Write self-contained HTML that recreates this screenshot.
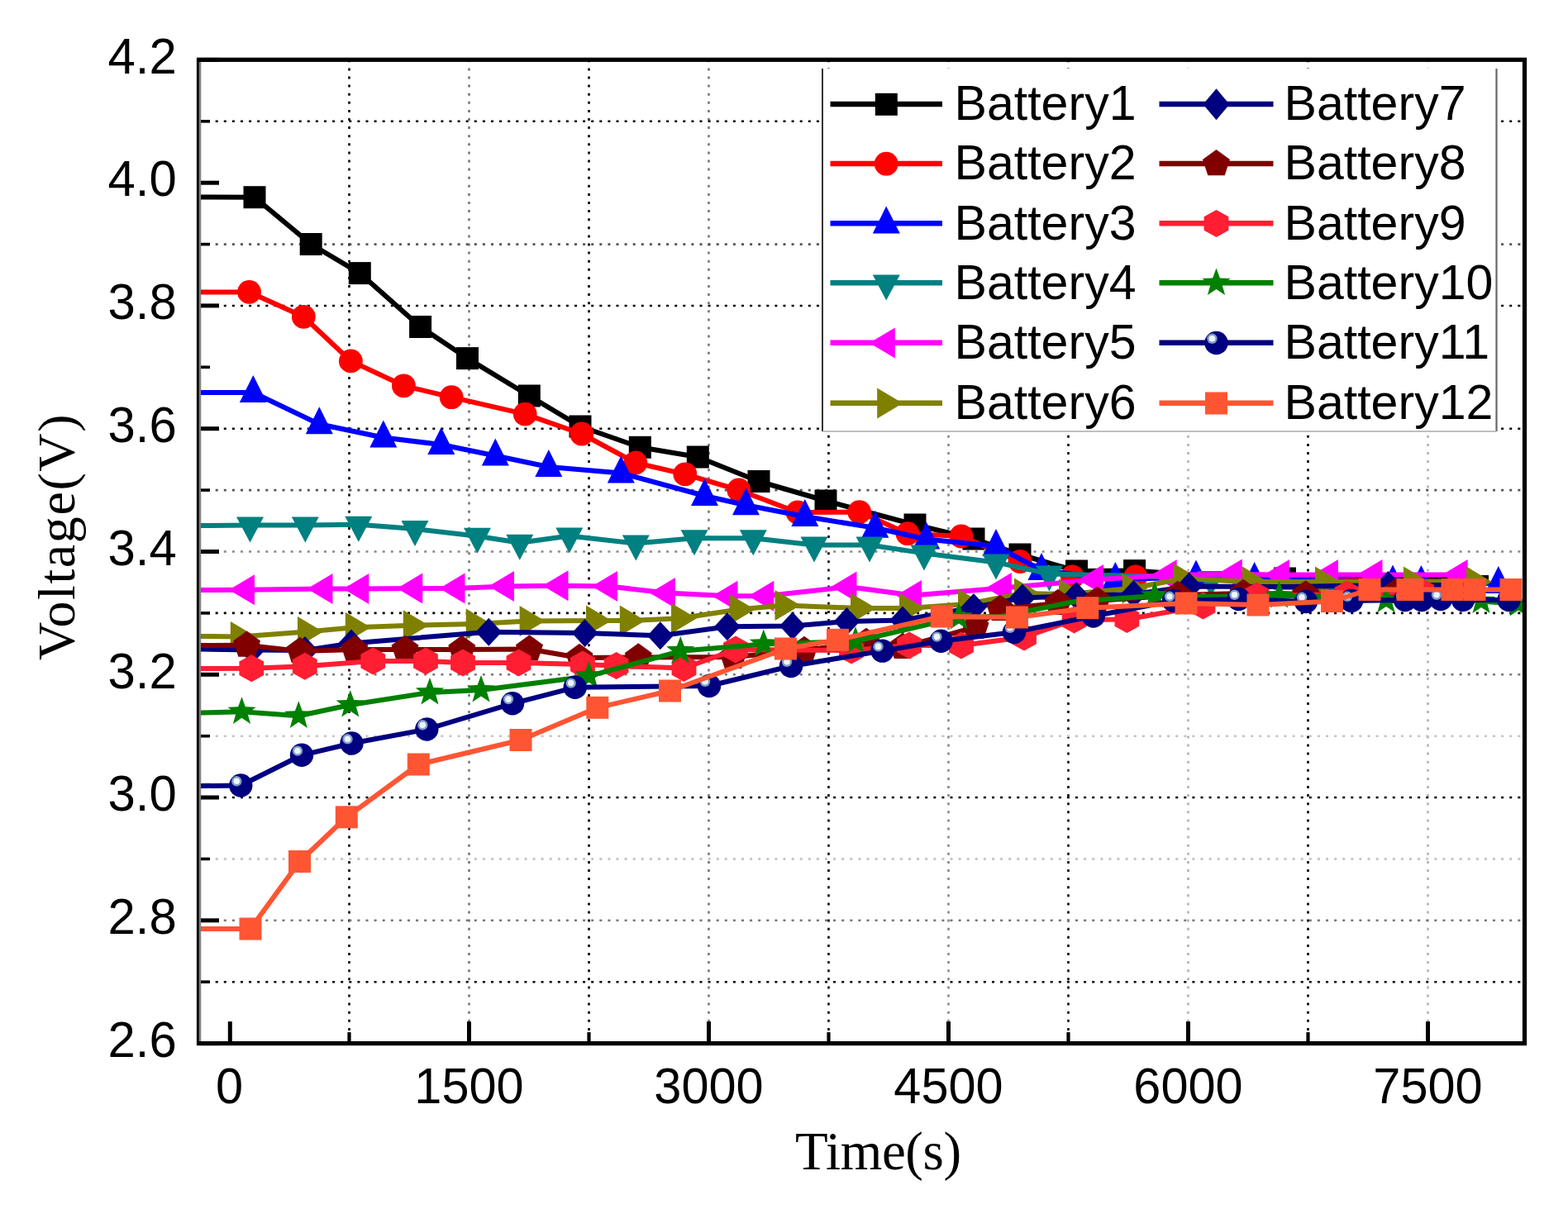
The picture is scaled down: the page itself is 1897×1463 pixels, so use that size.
<!DOCTYPE html>
<html lang="en"><head><meta charset="utf-8"><title>Battery voltage equalization</title>
<style>html,body{margin:0;padding:0;background:#fff;}body{width:1897px;height:1463px;overflow:hidden;}svg{display:block;}text{font-family:"Liberation Sans",sans-serif;fill:#000;}.ser{font-family:"Liberation Serif",serif;}</style>
</head><body>
<svg width="1897" height="1463" viewBox="0 0 1897 1463" role="img" aria-label="Battery voltage versus time">
<rect x="0" y="0" width="1897" height="1463" fill="#ffffff"/>
<g fill="none" stroke-width="2.6" stroke-dasharray="3 7.1">
<line x1="422.5" y1="72.3" x2="422.5" y2="1262.6" stroke="#000"/>
<line x1="567.5" y1="72.3" x2="567.5" y2="1262.6" stroke="#777"/>
<line x1="712.5" y1="72.3" x2="712.5" y2="1262.6" stroke="#000"/>
<line x1="857.5" y1="72.3" x2="857.5" y2="1262.6" stroke="#777"/>
<line x1="1002.5" y1="72.3" x2="1002.5" y2="1262.6" stroke="#000"/>
<line x1="1147.5" y1="72.3" x2="1147.5" y2="1262.6" stroke="#888"/>
<line x1="1292.5" y1="72.3" x2="1292.5" y2="1262.6" stroke="#000"/>
<line x1="1437.5" y1="72.3" x2="1437.5" y2="1262.6" stroke="#b4b0b8"/>
<line x1="1582.5" y1="72.3" x2="1582.5" y2="1262.6" stroke="#000"/>
<line x1="1727.5" y1="72.3" x2="1727.5" y2="1262.6" stroke="#b4b0b8"/>
<line x1="240.5" y1="146.8" x2="1844.5" y2="146.8" stroke="#000"/>
<line x1="240.5" y1="295.6" x2="1844.5" y2="295.6" stroke="#555"/>
<line x1="240.5" y1="370.0" x2="1844.5" y2="370.0" stroke="#000"/>
<line x1="240.5" y1="518.7" x2="1844.5" y2="518.7" stroke="#000"/>
<line x1="240.5" y1="593.1" x2="1844.5" y2="593.1" stroke="#555"/>
<line x1="240.5" y1="667.5" x2="1844.5" y2="667.5" stroke="#888"/>
<line x1="240.5" y1="741.9" x2="1844.5" y2="741.9" stroke="#000"/>
<line x1="240.5" y1="816.3" x2="1844.5" y2="816.3" stroke="#777"/>
<line x1="240.5" y1="890.7" x2="1844.5" y2="890.7" stroke="#c8c0c8"/>
<line x1="240.5" y1="965.0" x2="1844.5" y2="965.0" stroke="#000"/>
<line x1="240.5" y1="1039.4" x2="1844.5" y2="1039.4" stroke="#c8c0c8"/>
<line x1="240.5" y1="1113.8" x2="1844.5" y2="1113.8" stroke="#777"/>
<line x1="240.5" y1="1188.2" x2="1844.5" y2="1188.2" stroke="#000"/>
</g>
<g stroke="#000" stroke-width="5" fill="none">
<line x1="240.5" y1="1262.6" x2="265.0" y2="1262.6"/>
<line x1="240.5" y1="1188.2" x2="254.0" y2="1188.2" stroke-width="3.6"/>
<line x1="240.5" y1="1113.8" x2="265.0" y2="1113.8"/>
<line x1="240.5" y1="1039.4" x2="254.0" y2="1039.4" stroke-width="3.6"/>
<line x1="240.5" y1="965.0" x2="265.0" y2="965.0"/>
<line x1="240.5" y1="890.7" x2="254.0" y2="890.7" stroke-width="3.6"/>
<line x1="240.5" y1="816.3" x2="265.0" y2="816.3"/>
<line x1="240.5" y1="741.9" x2="254.0" y2="741.9" stroke-width="3.6"/>
<line x1="240.5" y1="667.5" x2="265.0" y2="667.5"/>
<line x1="240.5" y1="593.1" x2="254.0" y2="593.1" stroke-width="3.6"/>
<line x1="240.5" y1="518.7" x2="265.0" y2="518.7"/>
<line x1="240.5" y1="444.3" x2="254.0" y2="444.3" stroke-width="3.6"/>
<line x1="240.5" y1="369.9" x2="265.0" y2="369.9"/>
<line x1="240.5" y1="295.6" x2="254.0" y2="295.6" stroke-width="3.6"/>
<line x1="240.5" y1="221.2" x2="265.0" y2="221.2"/>
<line x1="240.5" y1="146.8" x2="254.0" y2="146.8" stroke-width="3.6"/>
<line x1="240.5" y1="72.4" x2="265.0" y2="72.4"/>
<line x1="278.3" y1="1262.6" x2="278.3" y2="1236.1"/>
<line x1="422.5" y1="1262.6" x2="422.5" y2="1249.1" stroke-width="4.2"/>
<line x1="567.5" y1="1262.6" x2="567.5" y2="1236.1"/>
<line x1="712.5" y1="1262.6" x2="712.5" y2="1249.1" stroke-width="4.2"/>
<line x1="857.5" y1="1262.6" x2="857.5" y2="1236.1"/>
<line x1="1002.5" y1="1262.6" x2="1002.5" y2="1249.1" stroke-width="4.2"/>
<line x1="1147.5" y1="1262.6" x2="1147.5" y2="1236.1"/>
<line x1="1292.5" y1="1262.6" x2="1292.5" y2="1249.1" stroke-width="4.2"/>
<line x1="1437.5" y1="1262.6" x2="1437.5" y2="1236.1"/>
<line x1="1582.5" y1="1262.6" x2="1582.5" y2="1249.1" stroke-width="4.2"/>
<line x1="1727.5" y1="1262.6" x2="1727.5" y2="1236.1"/>
</g>
<clipPath id="pc"><rect x="240.5" y="72.3" width="1604.0" height="1190.3"/></clipPath>
<g id="series" stroke-linejoin="round" stroke-linecap="butt" clip-path="url(#pc)">
<path d="M242.6 238.5 L308.0 238.7 L376.2 295.5 L435.3 330.6 L508.6 395.5 L565.5 433.6 L640.3 479.0 L702.0 516.0 L774.3 541.3 L844.3 553.0 L918.0 582.5 L999.0 606.0 L1107.0 635.0 L1178.0 652.0 L1234.0 671.0 L1302.5 691.0 L1372.6 690.6 L1460.0 697.0 L1554.5 700.0 L1700.0 700.0 L1801.0 699.0" fill="none" stroke="#000000" stroke-width="6"/>
<rect x="294.5" y="225.2" width="27" height="27" fill="#000000"/>
<rect x="362.7" y="282.0" width="27" height="27" fill="#000000"/>
<rect x="421.8" y="317.1" width="27" height="27" fill="#000000"/>
<rect x="495.1" y="382.0" width="27" height="27" fill="#000000"/>
<rect x="552.0" y="420.1" width="27" height="27" fill="#000000"/>
<rect x="626.8" y="465.5" width="27" height="27" fill="#000000"/>
<rect x="688.5" y="502.5" width="27" height="27" fill="#000000"/>
<rect x="760.8" y="527.8" width="27" height="27" fill="#000000"/>
<rect x="830.8" y="539.5" width="27" height="27" fill="#000000"/>
<rect x="904.5" y="569.0" width="27" height="27" fill="#000000"/>
<rect x="985.5" y="592.5" width="27" height="27" fill="#000000"/>
<rect x="1093.5" y="621.5" width="27" height="27" fill="#000000"/>
<rect x="1164.5" y="638.5" width="27" height="27" fill="#000000"/>
<rect x="1220.5" y="657.5" width="27" height="27" fill="#000000"/>
<rect x="1289.0" y="677.5" width="27" height="27" fill="#000000"/>
<rect x="1359.1" y="677.1" width="27" height="27" fill="#000000"/>
<rect x="1541.0" y="686.5" width="27" height="27" fill="#000000"/>
<path d="M242.6 353.4 L301.5 353.4 L367.3 383.3 L424.4 436.9 L488.4 466.8 L546.2 480.7 L635.2 501.1 L703.8 525.0 L768.8 560.0 L828.8 573.8 L893.8 593.0 L965.0 620.0 L1039.7 619.6 L1098.0 645.7 L1163.0 649.0 L1234.0 679.5 L1297.3 698.0 L1373.8 698.0 L1460.0 700.0 L1790.0 704.0" fill="none" stroke="#ff0000" stroke-width="6"/>
<circle cx="301.5" cy="353.4" r="14.4" fill="#ff0000"/>
<circle cx="367.3" cy="383.3" r="14.4" fill="#ff0000"/>
<circle cx="424.4" cy="436.9" r="14.4" fill="#ff0000"/>
<circle cx="488.4" cy="466.8" r="14.4" fill="#ff0000"/>
<circle cx="546.2" cy="480.7" r="14.4" fill="#ff0000"/>
<circle cx="635.2" cy="501.1" r="14.4" fill="#ff0000"/>
<circle cx="703.8" cy="525.0" r="14.4" fill="#ff0000"/>
<circle cx="768.8" cy="560.0" r="14.4" fill="#ff0000"/>
<circle cx="828.8" cy="573.8" r="14.4" fill="#ff0000"/>
<circle cx="893.8" cy="593.0" r="14.4" fill="#ff0000"/>
<circle cx="965.0" cy="620.0" r="14.4" fill="#ff0000"/>
<circle cx="1039.7" cy="619.6" r="14.4" fill="#ff0000"/>
<circle cx="1098.0" cy="645.7" r="14.4" fill="#ff0000"/>
<circle cx="1163.0" cy="649.0" r="14.4" fill="#ff0000"/>
<circle cx="1234.0" cy="679.5" r="14.4" fill="#ff0000"/>
<circle cx="1297.3" cy="698.0" r="14.4" fill="#ff0000"/>
<circle cx="1373.8" cy="698.0" r="14.4" fill="#ff0000"/>
<path d="M242.6 475.0 L306.3 475.0 L386.3 513.3 L463.8 529.5 L533.8 538.0 L599.3 551.5 L663.8 565.0 L751.3 572.5 L852.5 600.0 L902.5 611.3 L973.8 625.0 L1058.8 638.8 L1120.7 652.5 L1205.0 661.0 L1260.0 690.0 L1349.4 701.0 L1447.0 698.5 L1517.6 701.0 L1685.0 704.5 L1719.4 705.0 L1812.8 706.0 L1830.0 708.0" fill="none" stroke="#0000ff" stroke-width="6"/>
<polygon points="306.3,454.0 322.8,487.0 289.8,487.0" fill="#0000ff"/>
<polygon points="386.3,492.3 402.8,525.3 369.8,525.3" fill="#0000ff"/>
<polygon points="463.8,508.5 480.3,541.5 447.3,541.5" fill="#0000ff"/>
<polygon points="533.8,517.0 550.3,550.0 517.3,550.0" fill="#0000ff"/>
<polygon points="599.3,530.5 615.8,563.5 582.8,563.5" fill="#0000ff"/>
<polygon points="663.8,544.0 680.3,577.0 647.3,577.0" fill="#0000ff"/>
<polygon points="751.3,551.5 767.8,584.5 734.8,584.5" fill="#0000ff"/>
<polygon points="852.5,579.0 869.0,612.0 836.0,612.0" fill="#0000ff"/>
<polygon points="902.5,590.3 919.0,623.3 886.0,623.3" fill="#0000ff"/>
<polygon points="973.8,604.0 990.3,637.0 957.3,637.0" fill="#0000ff"/>
<polygon points="1058.8,617.8 1075.3,650.8 1042.3,650.8" fill="#0000ff"/>
<polygon points="1120.7,631.5 1137.2,664.5 1104.2,664.5" fill="#0000ff"/>
<polygon points="1205.0,640.0 1221.5,673.0 1188.5,673.0" fill="#0000ff"/>
<polygon points="1260.0,669.0 1276.5,702.0 1243.5,702.0" fill="#0000ff"/>
<polygon points="1349.4,680.0 1365.9,713.0 1332.9,713.0" fill="#0000ff"/>
<polygon points="1447.0,677.5 1463.5,710.5 1430.5,710.5" fill="#0000ff"/>
<polygon points="1517.6,680.0 1534.1,713.0 1501.1,713.0" fill="#0000ff"/>
<polygon points="1685.0,683.5 1701.5,716.5 1668.5,716.5" fill="#0000ff"/>
<polygon points="1719.4,684.0 1735.9,717.0 1702.9,717.0" fill="#0000ff"/>
<polygon points="1812.8,685.0 1829.3,718.0 1796.3,718.0" fill="#0000ff"/>
<path d="M242.6 636.0 L302.5 635.5 L369.3 635.5 L433.8 634.8 L502.0 640.0 L577.5 648.8 L628.8 656.8 L688.8 648.5 L769.3 657.5 L840.0 651.3 L911.3 651.3 L985.0 659.5 L1052.0 659.5 L1118.0 669.4 L1205.0 680.4 L1269.4 694.6 L1378.0 697.0 L1465.0 701.0 L1600.0 711.0 L1790.0 712.0" fill="none" stroke="#008080" stroke-width="6"/>
<polygon points="302.5,656.5 319.0,625.5 286.0,625.5" fill="#008080"/>
<polygon points="369.3,656.5 385.8,625.5 352.8,625.5" fill="#008080"/>
<polygon points="433.8,655.8 450.3,624.8 417.3,624.8" fill="#008080"/>
<polygon points="502.0,661.0 518.5,630.0 485.5,630.0" fill="#008080"/>
<polygon points="577.5,669.8 594.0,638.8 561.0,638.8" fill="#008080"/>
<polygon points="628.8,677.8 645.3,646.8 612.3,646.8" fill="#008080"/>
<polygon points="688.8,669.5 705.3,638.5 672.3,638.5" fill="#008080"/>
<polygon points="769.3,678.5 785.8,647.5 752.8,647.5" fill="#008080"/>
<polygon points="840.0,672.3 856.5,641.3 823.5,641.3" fill="#008080"/>
<polygon points="911.3,672.3 927.8,641.3 894.8,641.3" fill="#008080"/>
<polygon points="985.0,680.5 1001.5,649.5 968.5,649.5" fill="#008080"/>
<polygon points="1052.0,680.5 1068.5,649.5 1035.5,649.5" fill="#008080"/>
<polygon points="1118.0,690.4 1134.5,659.4 1101.5,659.4" fill="#008080"/>
<polygon points="1205.0,701.4 1221.5,670.4 1188.5,670.4" fill="#008080"/>
<polygon points="1269.4,715.6 1285.9,684.6 1252.9,684.6" fill="#008080"/>
<polygon points="1465.0,722.0 1481.5,691.0 1448.5,691.0" fill="#008080"/>
<path d="M242.6 714.0 L297.5 713.8 L392.0 712.5 L435.8 712.5 L500.8 712.0 L552.0 712.0 L611.5 709.5 L677.0 708.8 L736.5 709.5 L806.5 717.5 L882.0 721.3 L925.8 721.3 L1026.0 710.0 L1104.5 720.5 L1213.3 711.6 L1324.5 701.5 L1413.2 695.7 L1492.3 695.0 L1549.5 695.5 L1608.5 695.5 L1662.0 695.5 L1765.2 695.5" fill="none" stroke="#ff00ff" stroke-width="6"/>
<polygon points="277.0,713.8 308.0,695.3 308.0,732.3" fill="#ff00ff"/>
<polygon points="371.5,712.5 402.5,694.0 402.5,731.0" fill="#ff00ff"/>
<polygon points="415.3,712.5 446.3,694.0 446.3,731.0" fill="#ff00ff"/>
<polygon points="480.3,712.0 511.3,693.5 511.3,730.5" fill="#ff00ff"/>
<polygon points="531.5,712.0 562.5,693.5 562.5,730.5" fill="#ff00ff"/>
<polygon points="591.0,709.5 622.0,691.0 622.0,728.0" fill="#ff00ff"/>
<polygon points="656.5,708.8 687.5,690.3 687.5,727.3" fill="#ff00ff"/>
<polygon points="716.0,709.5 747.0,691.0 747.0,728.0" fill="#ff00ff"/>
<polygon points="786.0,717.5 817.0,699.0 817.0,736.0" fill="#ff00ff"/>
<polygon points="861.5,721.3 892.5,702.8 892.5,739.8" fill="#ff00ff"/>
<polygon points="905.3,721.3 936.3,702.8 936.3,739.8" fill="#ff00ff"/>
<polygon points="1005.5,710.0 1036.5,691.5 1036.5,728.5" fill="#ff00ff"/>
<polygon points="1084.0,720.5 1115.0,702.0 1115.0,739.0" fill="#ff00ff"/>
<polygon points="1192.8,711.6 1223.8,693.1 1223.8,730.1" fill="#ff00ff"/>
<polygon points="1304.0,701.5 1335.0,683.0 1335.0,720.0" fill="#ff00ff"/>
<polygon points="1392.7,695.7 1423.7,677.2 1423.7,714.2" fill="#ff00ff"/>
<polygon points="1471.8,695.0 1502.8,676.5 1502.8,713.5" fill="#ff00ff"/>
<polygon points="1529.0,695.5 1560.0,677.0 1560.0,714.0" fill="#ff00ff"/>
<polygon points="1588.0,695.5 1619.0,677.0 1619.0,714.0" fill="#ff00ff"/>
<polygon points="1641.5,695.5 1672.5,677.0 1672.5,714.0" fill="#ff00ff"/>
<polygon points="1744.7,695.5 1775.7,677.0 1775.7,714.0" fill="#ff00ff"/>
<path d="M242.6 770.0 L289.8 770.4 L371.0 764.5 L428.8 759.2 L498.8 756.7 L574.7 755.0 L639.6 751.5 L720.0 751.0 L760.8 751.0 L823.0 748.3 L893.5 737.5 L948.5 732.5 L1040.0 736.0 L1099.0 736.0 L1170.0 731.0 L1238.0 718.0 L1292.0 719.0 L1368.6 712.0 L1431.0 700.3 L1514.0 704.0 L1602.0 704.0 L1709.0 704.0 L1785.0 704.0" fill="none" stroke="#808000" stroke-width="6"/>
<polygon points="309.8,770.4 278.8,751.9 278.8,788.9" fill="#808000"/>
<polygon points="391.0,764.5 360.0,746.0 360.0,783.0" fill="#808000"/>
<polygon points="448.8,759.2 417.8,740.7 417.8,777.7" fill="#808000"/>
<polygon points="518.8,756.7 487.8,738.2 487.8,775.2" fill="#808000"/>
<polygon points="594.7,755.0 563.7,736.5 563.7,773.5" fill="#808000"/>
<polygon points="659.6,751.5 628.6,733.0 628.6,770.0" fill="#808000"/>
<polygon points="740.0,751.0 709.0,732.5 709.0,769.5" fill="#808000"/>
<polygon points="780.8,751.0 749.8,732.5 749.8,769.5" fill="#808000"/>
<polygon points="843.0,748.3 812.0,729.8 812.0,766.8" fill="#808000"/>
<polygon points="913.5,737.5 882.5,719.0 882.5,756.0" fill="#808000"/>
<polygon points="968.5,732.5 937.5,714.0 937.5,751.0" fill="#808000"/>
<polygon points="1060.0,736.0 1029.0,717.5 1029.0,754.5" fill="#808000"/>
<polygon points="1119.0,736.0 1088.0,717.5 1088.0,754.5" fill="#808000"/>
<polygon points="1190.0,731.0 1159.0,712.5 1159.0,749.5" fill="#808000"/>
<polygon points="1258.0,718.0 1227.0,699.5 1227.0,736.5" fill="#808000"/>
<polygon points="1312.0,719.0 1281.0,700.5 1281.0,737.5" fill="#808000"/>
<polygon points="1388.6,712.0 1357.6,693.5 1357.6,730.5" fill="#808000"/>
<polygon points="1451.0,700.3 1420.0,681.8 1420.0,718.8" fill="#808000"/>
<polygon points="1534.0,704.0 1503.0,685.5 1503.0,722.5" fill="#808000"/>
<polygon points="1622.0,704.0 1591.0,685.5 1591.0,722.5" fill="#808000"/>
<polygon points="1729.0,704.0 1698.0,685.5 1698.0,722.5" fill="#808000"/>
<polygon points="1805.0,704.0 1774.0,685.5 1774.0,722.5" fill="#808000"/>
<path d="M242.6 785.6 L305.0 786.5 L369.0 787.0 L425.0 778.5 L591.3 764.7 L707.6 766.0 L798.8 769.3 L879.9 758.3 L958.8 757.5 L1024.5 752.0 L1092.0 750.5 L1178.0 735.0 L1237.0 723.5 L1302.0 721.0 L1371.5 719.0 L1438.7 709.6 L1560.0 710.0 L1679.4 708.0 L1795.0 708.0" fill="none" stroke="#000080" stroke-width="6"/>
<polygon points="305.0,769.5 320.8,786.5 305.0,803.5 289.2,786.5" fill="#000080"/>
<polygon points="369.0,770.0 384.8,787.0 369.0,804.0 353.2,787.0" fill="#000080"/>
<polygon points="425.0,761.5 440.8,778.5 425.0,795.5 409.2,778.5" fill="#000080"/>
<polygon points="591.3,747.7 607.1,764.7 591.3,781.7 575.5,764.7" fill="#000080"/>
<polygon points="707.6,749.0 723.4,766.0 707.6,783.0 691.8,766.0" fill="#000080"/>
<polygon points="798.8,752.3 814.6,769.3 798.8,786.3 783.0,769.3" fill="#000080"/>
<polygon points="879.9,741.3 895.7,758.3 879.9,775.3 864.1,758.3" fill="#000080"/>
<polygon points="958.8,740.5 974.6,757.5 958.8,774.5 943.0,757.5" fill="#000080"/>
<polygon points="1024.5,735.0 1040.3,752.0 1024.5,769.0 1008.7,752.0" fill="#000080"/>
<polygon points="1092.0,733.5 1107.8,750.5 1092.0,767.5 1076.2,750.5" fill="#000080"/>
<polygon points="1178.0,718.0 1193.8,735.0 1178.0,752.0 1162.2,735.0" fill="#000080"/>
<polygon points="1237.0,706.5 1252.8,723.5 1237.0,740.5 1221.2,723.5" fill="#000080"/>
<polygon points="1302.0,704.0 1317.8,721.0 1302.0,738.0 1286.2,721.0" fill="#000080"/>
<polygon points="1371.5,702.0 1387.3,719.0 1371.5,736.0 1355.7,719.0" fill="#000080"/>
<polygon points="1438.7,692.6 1454.5,709.6 1438.7,726.6 1422.9,709.6" fill="#000080"/>
<polygon points="1679.4,691.0 1695.2,708.0 1679.4,725.0 1663.6,708.0" fill="#000080"/>
<path d="M242.6 781.0 L298.5 780.8 L363.0 788.0 L428.8 786.0 L490.0 786.0 L558.8 786.0 L640.5 785.5 L701.0 796.0 L772.3 795.5 L887.0 795.0 L973.0 787.0 L1048.0 777.0 L1092.0 783.0 L1180.0 759.0 L1210.0 737.0 L1280.0 730.0 L1327.4 727.0 L1424.8 720.0 L1504.0 718.0 L1579.6 719.5 L1690.0 716.0 L1795.0 716.0" fill="none" stroke="#800000" stroke-width="6"/>
<polygon points="298.5,763.5 315.0,775.5 308.7,794.8 288.3,794.8 282.0,775.5" fill="#800000"/>
<polygon points="363.0,770.7 379.5,782.7 373.2,802.0 352.8,802.0 346.5,782.7" fill="#800000"/>
<polygon points="428.8,768.7 445.3,780.7 439.0,800.0 418.6,800.0 412.3,780.7" fill="#800000"/>
<polygon points="490.0,768.7 506.5,780.7 500.2,800.0 479.8,800.0 473.5,780.7" fill="#800000"/>
<polygon points="558.8,768.7 575.3,780.7 569.0,800.0 548.6,800.0 542.3,780.7" fill="#800000"/>
<polygon points="640.5,768.2 657.0,780.2 650.7,799.5 630.3,799.5 624.0,780.2" fill="#800000"/>
<polygon points="701.0,778.7 717.5,790.7 711.2,810.0 690.8,810.0 684.5,790.7" fill="#800000"/>
<polygon points="772.3,778.2 788.8,790.2 782.5,809.5 762.1,809.5 755.8,790.2" fill="#800000"/>
<polygon points="887.0,777.7 903.5,789.7 897.2,809.0 876.8,809.0 870.5,789.7" fill="#800000"/>
<polygon points="973.0,769.7 989.5,781.7 983.2,801.0 962.8,801.0 956.5,781.7" fill="#800000"/>
<polygon points="1048.0,759.7 1064.5,771.7 1058.2,791.0 1037.8,791.0 1031.5,771.7" fill="#800000"/>
<polygon points="1092.0,765.7 1108.5,777.7 1102.2,797.0 1081.8,797.0 1075.5,777.7" fill="#800000"/>
<polygon points="1180.0,741.7 1196.5,753.7 1190.2,773.0 1169.8,773.0 1163.5,753.7" fill="#800000"/>
<polygon points="1210.0,719.7 1226.5,731.7 1220.2,751.0 1199.8,751.0 1193.5,731.7" fill="#800000"/>
<polygon points="1280.0,712.7 1296.5,724.7 1290.2,744.0 1269.8,744.0 1263.5,724.7" fill="#800000"/>
<polygon points="1327.4,709.7 1343.9,721.7 1337.6,741.0 1317.2,741.0 1310.9,721.7" fill="#800000"/>
<polygon points="1424.8,702.7 1441.3,714.7 1435.0,734.0 1414.6,734.0 1408.3,714.7" fill="#800000"/>
<polygon points="1504.0,700.7 1520.5,712.7 1514.2,732.0 1493.8,732.0 1487.5,712.7" fill="#800000"/>
<polygon points="1579.6,702.2 1596.1,714.2 1589.8,733.5 1569.4,733.5 1563.1,714.2" fill="#800000"/>
<polygon points="1690.0,698.7 1706.5,710.7 1700.2,730.0 1679.8,730.0 1673.5,710.7" fill="#800000"/>
<path d="M242.6 809.0 L304.3 808.8 L368.8 806.3 L451.3 800.0 L515.0 800.0 L560.0 802.0 L627.5 802.0 L705.0 804.0 L745.6 805.6 L827.5 808.5 L890.0 786.0 L1030.0 787.0 L1100.0 781.0 L1163.0 781.0 L1239.0 771.0 L1299.6 750.0 L1363.4 749.5 L1455.5 733.0 L1520.5 721.0 L1629.5 719.0 L1720.0 716.0 L1795.0 716.0" fill="none" stroke="#ff1e32" stroke-width="6"/>
<polygon points="304.3,792.3 319.2,800.5 319.2,817.0 304.3,825.3 289.4,817.0 289.4,800.5" fill="#ff1e32"/>
<polygon points="368.8,789.8 383.7,798.0 383.7,814.5 368.8,822.8 353.9,814.5 353.9,798.0" fill="#ff1e32"/>
<polygon points="451.3,783.5 466.2,791.8 466.2,808.2 451.3,816.5 436.4,808.2 436.4,791.8" fill="#ff1e32"/>
<polygon points="515.0,783.5 529.9,791.8 529.9,808.2 515.0,816.5 500.1,808.2 500.1,791.8" fill="#ff1e32"/>
<polygon points="560.0,785.5 574.9,793.8 574.9,810.2 560.0,818.5 545.1,810.2 545.1,793.8" fill="#ff1e32"/>
<polygon points="627.5,785.5 642.4,793.8 642.4,810.2 627.5,818.5 612.6,810.2 612.6,793.8" fill="#ff1e32"/>
<polygon points="705.0,787.5 719.9,795.8 719.9,812.2 705.0,820.5 690.1,812.2 690.1,795.8" fill="#ff1e32"/>
<polygon points="745.6,789.1 760.5,797.4 760.5,813.9 745.6,822.1 730.7,813.9 730.7,797.4" fill="#ff1e32"/>
<polygon points="827.5,792.0 842.4,800.2 842.4,816.8 827.5,825.0 812.6,816.8 812.6,800.2" fill="#ff1e32"/>
<polygon points="890.0,769.5 904.9,777.8 904.9,794.2 890.0,802.5 875.1,794.2 875.1,777.8" fill="#ff1e32"/>
<polygon points="1030.0,770.5 1044.9,778.8 1044.9,795.2 1030.0,803.5 1015.1,795.2 1015.1,778.8" fill="#ff1e32"/>
<polygon points="1100.0,764.5 1114.9,772.8 1114.9,789.2 1100.0,797.5 1085.1,789.2 1085.1,772.8" fill="#ff1e32"/>
<polygon points="1163.0,764.5 1177.9,772.8 1177.9,789.2 1163.0,797.5 1148.1,789.2 1148.1,772.8" fill="#ff1e32"/>
<polygon points="1239.0,754.5 1253.9,762.8 1253.9,779.2 1239.0,787.5 1224.1,779.2 1224.1,762.8" fill="#ff1e32"/>
<polygon points="1299.6,733.5 1314.5,741.8 1314.5,758.2 1299.6,766.5 1284.7,758.2 1284.7,741.8" fill="#ff1e32"/>
<polygon points="1363.4,733.0 1378.3,741.2 1378.3,757.8 1363.4,766.0 1348.5,757.8 1348.5,741.2" fill="#ff1e32"/>
<polygon points="1455.5,716.5 1470.4,724.8 1470.4,741.2 1455.5,749.5 1440.6,741.2 1440.6,724.8" fill="#ff1e32"/>
<polygon points="1520.5,704.5 1535.4,712.8 1535.4,729.2 1520.5,737.5 1505.6,729.2 1505.6,712.8" fill="#ff1e32"/>
<polygon points="1629.5,702.5 1644.4,710.8 1644.4,727.2 1629.5,735.5 1614.6,727.2 1614.6,710.8" fill="#ff1e32"/>
<polygon points="1720.0,699.5 1734.9,707.8 1734.9,724.2 1720.0,732.5 1705.1,724.2 1705.1,707.8" fill="#ff1e32"/>
<path d="M242.6 862.5 L292.5 861.3 L361.3 866.3 L423.8 853.0 L520.0 838.0 L582.0 835.0 L712.6 818.2 L823.3 787.8 L923.8 779.4 L1035.0 776.0 L1160.0 747.0 L1210.0 746.0 L1300.0 728.0 L1397.0 721.0 L1470.0 722.0 L1547.7 721.0 L1610.0 722.0 L1677.0 726.5 L1740.0 724.0 L1792.0 727.5 L1837.0 731.0" fill="none" stroke="#008000" stroke-width="6"/>
<polygon points="292.5,843.3 296.9,855.2 309.6,855.7 299.6,863.6 303.1,875.9 292.5,868.8 281.9,875.9 285.4,863.6 275.4,855.7 288.1,855.2" fill="#008000"/>
<polygon points="361.3,848.3 365.7,860.2 378.4,860.7 368.4,868.6 371.9,880.9 361.3,873.8 350.7,880.9 354.2,868.6 344.2,860.7 356.9,860.2" fill="#008000"/>
<polygon points="423.8,835.0 428.2,846.9 440.9,847.4 430.9,855.3 434.4,867.6 423.8,860.5 413.2,867.6 416.7,855.3 406.7,847.4 419.4,846.9" fill="#008000"/>
<polygon points="520.0,820.0 524.4,831.9 537.1,832.4 527.1,840.3 530.6,852.6 520.0,845.5 509.4,852.6 512.9,840.3 502.9,832.4 515.6,831.9" fill="#008000"/>
<polygon points="582.0,817.0 586.4,828.9 599.1,829.4 589.1,837.3 592.6,849.6 582.0,842.5 571.4,849.6 574.9,837.3 564.9,829.4 577.6,828.9" fill="#008000"/>
<polygon points="712.6,800.2 717.0,812.1 729.7,812.6 719.7,820.5 723.2,832.8 712.6,825.7 702.0,832.8 705.5,820.5 695.5,812.6 708.2,812.1" fill="#008000"/>
<polygon points="823.3,769.8 827.7,781.7 840.4,782.2 830.4,790.1 833.9,802.4 823.3,795.3 812.7,802.4 816.2,790.1 806.2,782.2 818.9,781.7" fill="#008000"/>
<polygon points="923.8,761.4 928.2,773.3 940.9,773.8 930.9,781.7 934.4,794.0 923.8,786.9 913.2,794.0 916.7,781.7 906.7,773.8 919.4,773.3" fill="#008000"/>
<polygon points="1035.0,758.0 1039.4,769.9 1052.1,770.4 1042.1,778.3 1045.6,790.6 1035.0,783.5 1024.4,790.6 1027.9,778.3 1017.9,770.4 1030.6,769.9" fill="#008000"/>
<polygon points="1160.0,729.0 1164.4,740.9 1177.1,741.4 1167.1,749.3 1170.6,761.6 1160.0,754.5 1149.4,761.6 1152.9,749.3 1142.9,741.4 1155.6,740.9" fill="#008000"/>
<polygon points="1397.0,703.0 1401.4,714.9 1414.1,715.4 1404.1,723.3 1407.6,735.6 1397.0,728.5 1386.4,735.6 1389.9,723.3 1379.9,715.4 1392.6,714.9" fill="#008000"/>
<polygon points="1547.7,703.0 1552.1,714.9 1564.8,715.4 1554.8,723.3 1558.3,735.6 1547.7,728.5 1537.1,735.6 1540.6,723.3 1530.6,715.4 1543.3,714.9" fill="#008000"/>
<polygon points="1677.0,708.5 1681.4,720.4 1694.1,720.9 1684.1,728.8 1687.6,741.1 1677.0,734.0 1666.4,741.1 1669.9,728.8 1659.9,720.9 1672.6,720.4" fill="#008000"/>
<polygon points="1792.0,709.5 1796.4,721.4 1809.1,721.9 1799.1,729.8 1802.6,742.1 1792.0,735.0 1781.4,742.1 1784.9,729.8 1774.9,721.9 1787.6,721.4" fill="#008000"/>
<polygon points="1837.0,713.0 1841.4,724.9 1854.1,725.4 1844.1,733.3 1847.6,745.6 1837.0,738.5 1826.4,745.6 1829.9,733.3 1819.9,725.4 1832.6,724.9" fill="#008000"/>
<path d="M242.6 951.0 L291.3 950.5 L365.0 913.8 L425.5 899.5 L516.3 882.5 L620.0 851.3 L695.7 831.8 L858.0 830.0 L957.0 806.0 L1067.5 787.6 L1138.5 775.8 L1227.0 765.0 L1322.8 745.5 L1420.0 727.0 L1498.5 725.0 L1580.0 728.0 L1635.0 727.0 L1700.0 726.0 L1720.0 726.0 L1743.0 725.0 L1770.0 726.0 L1825.5 726.0" fill="none" stroke="#000080" stroke-width="6"/>
<circle cx="291.3" cy="950.5" r="14.2" fill="#000080"/><circle cx="286.3" cy="945.3" r="6.2" fill="#7f9fc0"/><circle cx="286.3" cy="945.3" r="3.8" fill="#eef4ff"/>
<circle cx="365.0" cy="913.8" r="14.2" fill="#000080"/><circle cx="360.0" cy="908.6" r="6.2" fill="#7f9fc0"/><circle cx="360.0" cy="908.6" r="3.8" fill="#eef4ff"/>
<circle cx="425.5" cy="899.5" r="14.2" fill="#000080"/><circle cx="420.5" cy="894.3" r="6.2" fill="#7f9fc0"/><circle cx="420.5" cy="894.3" r="3.8" fill="#eef4ff"/>
<circle cx="516.3" cy="882.5" r="14.2" fill="#000080"/><circle cx="511.3" cy="877.3" r="6.2" fill="#7f9fc0"/><circle cx="511.3" cy="877.3" r="3.8" fill="#eef4ff"/>
<circle cx="620.0" cy="851.3" r="14.2" fill="#000080"/><circle cx="615.0" cy="846.1" r="6.2" fill="#7f9fc0"/><circle cx="615.0" cy="846.1" r="3.8" fill="#eef4ff"/>
<circle cx="695.7" cy="831.8" r="14.2" fill="#000080"/><circle cx="690.7" cy="826.6" r="6.2" fill="#7f9fc0"/><circle cx="690.7" cy="826.6" r="3.8" fill="#eef4ff"/>
<circle cx="858.0" cy="830.0" r="14.2" fill="#000080"/><circle cx="853.0" cy="824.8" r="6.2" fill="#7f9fc0"/><circle cx="853.0" cy="824.8" r="3.8" fill="#eef4ff"/>
<circle cx="957.0" cy="806.0" r="14.2" fill="#000080"/><circle cx="952.0" cy="800.8" r="6.2" fill="#7f9fc0"/><circle cx="952.0" cy="800.8" r="3.8" fill="#eef4ff"/>
<circle cx="1067.5" cy="787.6" r="14.2" fill="#000080"/><circle cx="1062.5" cy="782.4" r="6.2" fill="#7f9fc0"/><circle cx="1062.5" cy="782.4" r="3.8" fill="#eef4ff"/>
<circle cx="1138.5" cy="775.8" r="14.2" fill="#000080"/><circle cx="1133.5" cy="770.6" r="6.2" fill="#7f9fc0"/><circle cx="1133.5" cy="770.6" r="3.8" fill="#eef4ff"/>
<circle cx="1227.0" cy="765.0" r="14.2" fill="#000080"/><circle cx="1222.0" cy="759.8" r="6.2" fill="#7f9fc0"/><circle cx="1222.0" cy="759.8" r="3.8" fill="#eef4ff"/>
<circle cx="1322.8" cy="745.5" r="14.2" fill="#000080"/><circle cx="1317.8" cy="740.3" r="6.2" fill="#7f9fc0"/><circle cx="1317.8" cy="740.3" r="3.8" fill="#eef4ff"/>
<circle cx="1420.0" cy="727.0" r="14.2" fill="#000080"/><circle cx="1415.0" cy="721.8" r="6.2" fill="#7f9fc0"/><circle cx="1415.0" cy="721.8" r="3.8" fill="#eef4ff"/>
<circle cx="1498.5" cy="725.0" r="14.2" fill="#000080"/><circle cx="1493.5" cy="719.8" r="6.2" fill="#7f9fc0"/><circle cx="1493.5" cy="719.8" r="3.8" fill="#eef4ff"/>
<circle cx="1580.0" cy="728.0" r="14.2" fill="#000080"/><circle cx="1575.0" cy="722.8" r="6.2" fill="#7f9fc0"/><circle cx="1575.0" cy="722.8" r="3.8" fill="#eef4ff"/>
<circle cx="1635.0" cy="727.0" r="14.2" fill="#000080"/><circle cx="1630.0" cy="721.8" r="6.2" fill="#7f9fc0"/><circle cx="1630.0" cy="721.8" r="3.8" fill="#eef4ff"/>
<circle cx="1700.0" cy="726.0" r="14.2" fill="#000080"/><circle cx="1695.0" cy="720.8" r="6.2" fill="#7f9fc0"/><circle cx="1695.0" cy="720.8" r="3.8" fill="#eef4ff"/>
<circle cx="1720.0" cy="726.0" r="14.2" fill="#000080"/><circle cx="1715.0" cy="720.8" r="6.2" fill="#7f9fc0"/><circle cx="1715.0" cy="720.8" r="3.8" fill="#eef4ff"/>
<circle cx="1743.0" cy="725.0" r="14.2" fill="#000080"/><circle cx="1738.0" cy="719.8" r="6.2" fill="#7f9fc0"/><circle cx="1738.0" cy="719.8" r="3.8" fill="#eef4ff"/>
<circle cx="1770.0" cy="726.0" r="14.2" fill="#000080"/><circle cx="1765.0" cy="720.8" r="6.2" fill="#7f9fc0"/><circle cx="1765.0" cy="720.8" r="3.8" fill="#eef4ff"/>
<circle cx="1825.5" cy="726.0" r="14.2" fill="#000080"/><circle cx="1820.5" cy="720.8" r="6.2" fill="#7f9fc0"/><circle cx="1820.5" cy="720.8" r="3.8" fill="#eef4ff"/>
<path d="M242.6 1124.0 L303.0 1124.0 L362.5 1042.5 L419.3 988.8 L506.3 925.0 L630.0 895.5 L722.8 856.3 L810.5 836.0 L950.5 785.0 L1013.5 774.3 L1139.3 746.0 L1230.5 747.0 L1315.8 735.7 L1435.0 730.0 L1522.0 732.0 L1611.5 727.6 L1657.0 713.5 L1703.0 713.5 L1709.0 713.5 L1757.0 713.5 L1784.0 713.5 L1828.0 713.5" fill="none" stroke="#ff5533" stroke-width="6"/>
<rect x="289.5" y="1110.5" width="27" height="27" fill="#ff5533"/>
<rect x="349.0" y="1029.0" width="27" height="27" fill="#ff5533"/>
<rect x="405.8" y="975.3" width="27" height="27" fill="#ff5533"/>
<rect x="492.8" y="911.5" width="27" height="27" fill="#ff5533"/>
<rect x="616.5" y="882.0" width="27" height="27" fill="#ff5533"/>
<rect x="709.3" y="842.8" width="27" height="27" fill="#ff5533"/>
<rect x="797.0" y="822.5" width="27" height="27" fill="#ff5533"/>
<rect x="937.0" y="771.5" width="27" height="27" fill="#ff5533"/>
<rect x="1000.0" y="760.8" width="27" height="27" fill="#ff5533"/>
<rect x="1125.8" y="732.5" width="27" height="27" fill="#ff5533"/>
<rect x="1217.0" y="733.5" width="27" height="27" fill="#ff5533"/>
<rect x="1302.3" y="722.2" width="27" height="27" fill="#ff5533"/>
<rect x="1421.5" y="716.5" width="27" height="27" fill="#ff5533"/>
<rect x="1508.5" y="718.5" width="27" height="27" fill="#ff5533"/>
<rect x="1598.0" y="714.1" width="27" height="27" fill="#ff5533"/>
<rect x="1643.5" y="700.0" width="27" height="27" fill="#ff5533"/>
<rect x="1689.5" y="700.0" width="27" height="27" fill="#ff5533"/>
<rect x="1695.5" y="700.0" width="27" height="27" fill="#ff5533"/>
<rect x="1743.5" y="700.0" width="27" height="27" fill="#ff5533"/>
<rect x="1770.5" y="700.0" width="27" height="27" fill="#ff5533"/>
<rect x="1814.5" y="700.0" width="27" height="27" fill="#ff5533"/>
</g>
<rect x="240.5" y="72.3" width="1604.0" height="1190.3" fill="none" stroke="#000" stroke-width="5.2"/>
<line x1="241.9" y1="74.9" x2="241.9" y2="1260.0" stroke="#808080" stroke-width="2.4"/>
<rect x="995.0" y="83.0" width="815.5" height="439.0" fill="#fff"/>
<line x1="995.0" y1="83.0" x2="995.0" y2="522.0" stroke="#000" stroke-width="1.6"/>
<line x1="1810.5" y1="83.0" x2="1810.5" y2="522.0" stroke="#666" stroke-width="2.2"/>
<line x1="995.0" y1="522.0" x2="1810.5" y2="522.0" stroke="#aaa" stroke-width="1.6"/>
<line x1="1004.5" y1="126.0" x2="1140.0" y2="126.0" stroke="#000000" stroke-width="6.5"/>
<rect x="1058.8" y="112.8" width="27" height="27" fill="#000000"/>
<text transform="translate(1154.5 145.2) scale(0.985 1)" font-size="60">Battery1</text>
<line x1="1004.5" y1="197.9" x2="1140.0" y2="197.9" stroke="#ff0000" stroke-width="6.5"/>
<circle cx="1072.2" cy="198.2" r="14.4" fill="#ff0000"/>
<text transform="translate(1154.5 217.2) scale(0.985 1)" font-size="60">Battery2</text>
<line x1="1004.5" y1="270.2" x2="1140.0" y2="270.2" stroke="#0000ff" stroke-width="6.5"/>
<polygon points="1072.2,249.5 1088.8,282.5 1055.8,282.5" fill="#0000ff"/>
<text transform="translate(1154.5 289.5) scale(0.985 1)" font-size="60">Battery3</text>
<line x1="1004.5" y1="342.2" x2="1140.0" y2="342.2" stroke="#008080" stroke-width="6.5"/>
<polygon points="1072.2,363.5 1088.8,332.5 1055.8,332.5" fill="#008080"/>
<text transform="translate(1154.5 361.5) scale(0.985 1)" font-size="60">Battery4</text>
<line x1="1004.5" y1="414.7" x2="1140.0" y2="414.7" stroke="#ff00ff" stroke-width="6.5"/>
<polygon points="1051.8,415.0 1082.8,396.5 1082.8,433.5" fill="#ff00ff"/>
<text transform="translate(1154.5 434.0) scale(0.985 1)" font-size="60">Battery5</text>
<line x1="1004.5" y1="487.7" x2="1140.0" y2="487.7" stroke="#808000" stroke-width="6.5"/>
<polygon points="1092.2,488.0 1061.2,469.5 1061.2,506.5" fill="#808000"/>
<text transform="translate(1154.5 507.0) scale(0.985 1)" font-size="60">Battery6</text>
<line x1="1402.5" y1="126.0" x2="1540.5" y2="126.0" stroke="#000080" stroke-width="6.5"/>
<polygon points="1471.5,107.2 1487.5,126.2 1471.5,145.2 1455.5,126.2" fill="#000080"/>
<text transform="translate(1553.5 145.2) scale(0.985 1)" font-size="60">Battery7</text>
<line x1="1402.5" y1="197.9" x2="1540.5" y2="197.9" stroke="#800000" stroke-width="6.5"/>
<polygon points="1471.5,180.9 1488.0,192.9 1481.7,212.2 1461.3,212.2 1455.0,192.9" fill="#800000"/>
<text transform="translate(1553.5 217.2) scale(0.985 1)" font-size="60">Battery8</text>
<line x1="1402.5" y1="270.2" x2="1540.5" y2="270.2" stroke="#ff1e32" stroke-width="6.5"/>
<polygon points="1471.5,254.0 1486.4,262.2 1486.4,278.8 1471.5,287.0 1456.6,278.8 1456.6,262.2" fill="#ff1e32"/>
<text transform="translate(1553.5 289.5) scale(0.985 1)" font-size="60">Battery9</text>
<line x1="1402.5" y1="342.2" x2="1540.5" y2="342.2" stroke="#008000" stroke-width="6.5"/>
<polygon points="1471.5,324.5 1475.9,336.4 1488.6,336.9 1478.6,344.8 1482.1,357.1 1471.5,350.0 1460.9,357.1 1464.4,344.8 1454.4,336.9 1467.1,336.4" fill="#008000"/>
<text transform="translate(1553.5 361.5) scale(0.985 1)" font-size="60">Battery10</text>
<line x1="1402.5" y1="414.7" x2="1540.5" y2="414.7" stroke="#000080" stroke-width="6.5"/>
<circle cx="1471.5" cy="415.0" r="14.2" fill="#000080"/><circle cx="1466.5" cy="409.8" r="6.2" fill="#7f9fc0"/><circle cx="1466.5" cy="409.8" r="3.8" fill="#eef4ff"/>
<text transform="translate(1553.5 434.0) scale(0.985 1)" font-size="60">Battery11</text>
<line x1="1402.5" y1="487.7" x2="1540.5" y2="487.7" stroke="#ff5533" stroke-width="6.5"/>
<rect x="1458.0" y="474.5" width="27" height="27" fill="#ff5533"/>
<text transform="translate(1553.5 507.0) scale(0.985 1)" font-size="60">Battery12</text>
<text transform="translate(213.7 1278.8) scale(0.965 1)" font-size="62" text-anchor="end">2.6</text>
<text transform="translate(213.7 1130.0) scale(0.965 1)" font-size="62" text-anchor="end">2.8</text>
<text transform="translate(213.7 981.2) scale(0.965 1)" font-size="62" text-anchor="end">3.0</text>
<text transform="translate(213.7 832.5) scale(0.965 1)" font-size="62" text-anchor="end">3.2</text>
<text transform="translate(213.7 683.7) scale(0.965 1)" font-size="62" text-anchor="end">3.4</text>
<text transform="translate(213.7 534.9) scale(0.965 1)" font-size="62" text-anchor="end">3.6</text>
<text transform="translate(213.7 386.1) scale(0.965 1)" font-size="62" text-anchor="end">3.8</text>
<text transform="translate(213.7 237.4) scale(0.965 1)" font-size="62" text-anchor="end">4.0</text>
<text transform="translate(213.7 88.6) scale(0.965 1)" font-size="62" text-anchor="end">4.2</text>
<text transform="translate(277.5 1335) scale(0.975 1)" font-size="61" text-anchor="middle">0</text>
<text transform="translate(567.5 1335) scale(0.975 1)" font-size="61" text-anchor="middle">1500</text>
<text transform="translate(857.5 1335) scale(0.975 1)" font-size="61" text-anchor="middle">3000</text>
<text transform="translate(1147.5 1335) scale(0.975 1)" font-size="61" text-anchor="middle">4500</text>
<text transform="translate(1437.5 1335) scale(0.975 1)" font-size="61" text-anchor="middle">6000</text>
<text transform="translate(1727.5 1335) scale(0.975 1)" font-size="61" text-anchor="middle">7500</text>
<text class="ser" x="1062.6" y="1415" font-size="65" text-anchor="middle" textLength="201" lengthAdjust="spacing">Time(s)</text>
<text class="ser" transform="translate(89.5 650.3) rotate(-90)" font-size="64" text-anchor="middle" textLength="297.5" lengthAdjust="spacing">Voltage(V)</text>
</svg>
</body></html>
